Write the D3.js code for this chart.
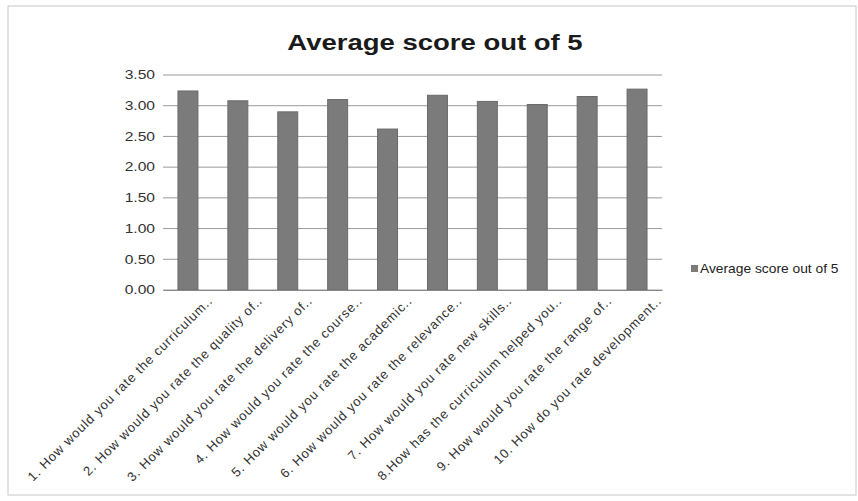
<!DOCTYPE html>
<html>
<head>
<meta charset="utf-8">
<script src="https://cdn.jsdelivr.net/npm/d3@7"></script>
<style>
  body { margin: 0; background: #ffffff; }
  svg { font-family: "Liberation Sans", Arial, sans-serif; }
</style>
</head>
<body>
<script>
'use strict';

// chart data
const questions = [
  "1. How would you rate the curriculum..",
  "2. How would you rate the quality of..",
  "3. How would you rate the delivery of..",
  "4. How would you rate the course..",
  "5. How would you rate the academic..",
  "6. How would you rate the relevance..",
  "7. How would you rate new skills..",
  "8.How has the curriculum helped you..",
  "9. How would you rate the range of..",
  "10. How do you rate development.."
];
const scores = [3.24, 3.08, 2.90, 3.10, 2.62, 3.17, 3.07, 3.02, 3.15, 3.27];
const yTicks = [0, 0.5, 1, 1.5, 2, 2.5, 3, 3.5];
const seriesName = "Average score out of 5";

const width = 858, height = 501;
const plot = { left: 163, right: 662, top: 75, bottom: 290 };

const svg = d3.select('body')
  .append('svg')
  .attr('width', width)
  .attr('height', height);

// chart frame
svg.append('rect')
  .attr('x', 8).attr('y', 6)
  .attr('width', width - 10).attr('height', height - 12)
  .attr('fill', '#ffffff')
  .attr('stroke', '#c8c8c8');

const x = d3.scaleBand()
  .domain(questions)
  .range([plot.left, plot.right])
  .paddingInner(0.6)
  .paddingOuter(0.3);

const y = d3.scaleLinear()
  .domain([0, 3.5])
  .range([plot.bottom, plot.top]);

// gridlines
svg.append('g')
  .selectAll('line')
  .data(yTicks)
  .enter()
  .append('line')
  .attr('x1', plot.left)
  .attr('x2', plot.right)
  .attr('y1', d => y(d))
  .attr('y2', d => y(d))
  .attr('stroke', '#9a9a9a')
  .attr('stroke-width', 1);

// y axis labels (photo looks stretched sideways, so widen text a bit)
const yAxis = d3.axisLeft(y)
  .tickValues(yTicks)
  .tickFormat(d3.format('.2f'))
  .tickSize(0)
  .tickPadding(0);
svg.append('g')
  .attr('transform', 'translate(' + (plot.left - 8) + ',0)')
  .call(yAxis)
  .call(g => g.select('.domain').remove())
  .selectAll('text')
  .attr('font-size', '12px')
  .attr('fill', '#333')
  .attr('x', 0)
  .attr('transform', 'scale(1.3,1)');

// bars
svg.append('g')
  .selectAll('rect')
  .data(questions)
  .enter()
  .append('rect')
  .attr('x', d => x(d))
  .attr('y', (d, i) => y(scores[i]))
  .attr('width', x.bandwidth())
  .attr('height', (d, i) => plot.bottom - y(scores[i]))
  .attr('fill', '#7b7b7b')
  .attr('stroke', '#6a6a6a');

// x axis
const xAxis = d3.axisBottom(x).tickSize(0).tickPadding(6);
svg.append('g')
  .attr('transform', 'translate(0,' + plot.bottom + ')')
  .call(xAxis)
  .call(g => g.select('.domain').attr('stroke', '#888'))
  .selectAll('text')
  .attr('font-size', '13px')
  .attr('fill', '#333')
  .attr('text-anchor', 'end')
  .attr('dy', '0.35em')
  .style('letter-spacing', '0.9px')
  .attr('transform', 'translate(' + (x.bandwidth() / 2 + 8) + ',4) rotate(-45)');

// title
svg.append('text')
  .attr('transform', 'translate(435,50) scale(1.25,1)')
  .attr('text-anchor', 'middle')
  .attr('font-size', '22px')
  .attr('font-weight', 'bold')
  .attr('fill', '#1a1a1a')
  .text(seriesName);

// legend
svg.append('rect')
  .attr('x', 691).attr('y', 265)
  .attr('width', 7).attr('height', 7)
  .attr('fill', '#7b7b7b');
svg.append('text')
  .attr('transform', 'translate(700,273) scale(1.15,1)')
  .attr('font-size', '12px')
  .attr('fill', '#222')
  .text(seriesName);
</script>
</body>
</html>
